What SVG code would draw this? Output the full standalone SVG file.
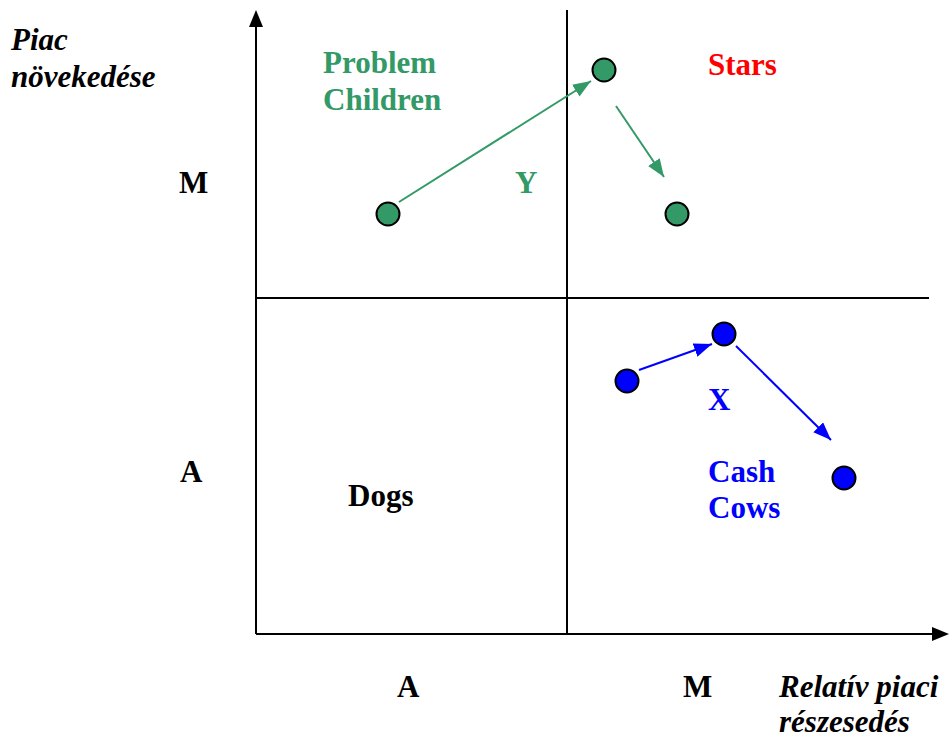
<svg xmlns="http://www.w3.org/2000/svg" width="949" height="739" viewBox="0 0 949 739">
<defs>
<style>
text{font-family:"Liberation Serif","Times New Roman",serif;font-weight:bold;font-size:31px}
.it{font-style:italic}
.g{fill:#339966}
.b{fill:#0000ff}
.r{fill:#ff0000}
.k{fill:#000}
.ax{stroke:#000;stroke-width:2;fill:none}
.ga{stroke:#339966;stroke-width:2;fill:none}
.ba{stroke:#0000ff;stroke-width:2;fill:none}
.gn{fill:#339966;stroke:#000;stroke-width:2}
.bn{fill:#0000ff;stroke:#000;stroke-width:2}
</style>
<marker id="mg" markerWidth="18" markerHeight="14" refX="18" refY="7" orient="auto" markerUnits="userSpaceOnUse"><path d="M0,0 L18,7 L0,14 z" fill="#339966"/></marker>
<marker id="mb" markerWidth="18" markerHeight="14" refX="18" refY="7" orient="auto" markerUnits="userSpaceOnUse"><path d="M0,0 L18,7 L0,14 z" fill="#0000ff"/></marker>
</defs>
<g id="axes">
<line class="ax" x1="256" y1="634" x2="256" y2="26"/>
<path d="M256,10 L249,27 L263,27 z" fill="#000"/>
<line class="ax" x1="256" y1="634" x2="932" y2="634"/>
<path d="M949,634 L932,627 L932,641 z" fill="#000"/>
<line class="ax" x1="567" y1="10" x2="567" y2="634"/>
<line class="ax" x1="256" y1="298" x2="929" y2="298"/>
</g>
<g id="connectors">
<line class="ga" x1="399" y1="202" x2="591" y2="81" marker-end="url(#mg)"/>
<line class="ga" x1="616" y1="106" x2="664" y2="177" marker-end="url(#mg)"/>
<line class="ba" x1="639" y1="370" x2="712" y2="344" marker-end="url(#mb)"/>
<line class="ba" x1="736" y1="346" x2="831" y2="440" marker-end="url(#mb)"/>
</g>
<g id="y1"><circle class="gn" cx="388" cy="214" r="11.5"/></g>
<g id="y2"><circle class="gn" cx="604" cy="70" r="11.5"/></g>
<g id="y3"><circle class="gn" cx="677" cy="214" r="11.5"/></g>
<g id="x1"><circle class="bn" cx="627" cy="381" r="11.5"/></g>
<g id="x2"><circle class="bn" cx="724" cy="334" r="11.5"/></g>
<g id="x3"><circle class="bn" cx="844" cy="478" r="11.5"/></g>
<g id="labels">
<text class="it k" x="11" y="50">Piac</text>
<text class="it k" x="11" y="87">növekedése</text>
<text class="g" x="323" y="73">Problem</text>
<text class="g" x="323" y="110">Children</text>
<text class="r" x="708" y="75">Stars</text>
<text class="k" x="179" y="193">M</text>
<text class="g" x="515" y="193">Y</text>
<text class="k" x="180" y="482">A</text>
<text class="k" x="348" y="506">Dogs</text>
<text class="b" x="708" y="410">X</text>
<text class="b" x="708" y="482">Cash</text>
<text class="b" x="708" y="518">Cows</text>
<text class="k" x="397" y="697">A</text>
<text class="k" x="683" y="697">M</text>
<text class="it k" x="779" y="697">Relatív piaci</text>
<text class="it k" x="779" y="732">részesedés</text>
</g>
</svg>
